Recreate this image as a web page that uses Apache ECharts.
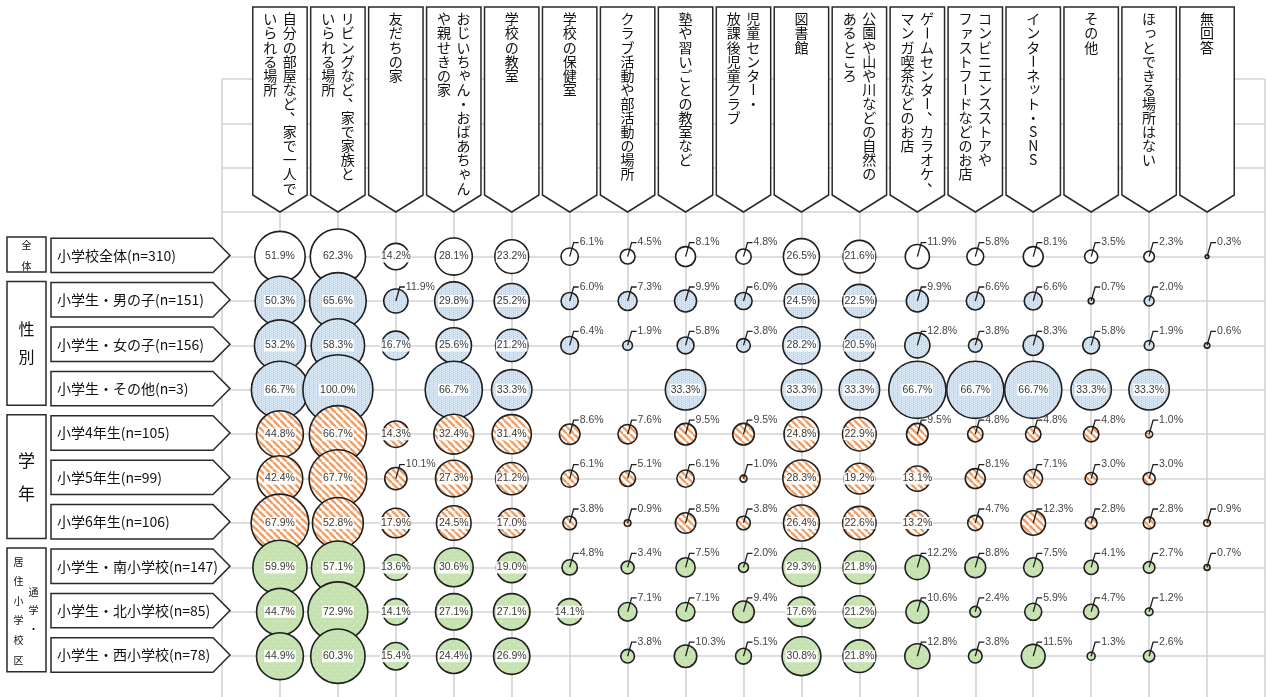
<!DOCTYPE html>
<html><head><meta charset="utf-8">
<script src="https://cdn.jsdelivr.net/npm/echarts@6/dist/echarts.min.js"></script>
<style>html,body{margin:0;padding:0;background:#fff}#c{width:1266px;height:697px}</style>
</head><body><div id="c"></div>
<script>
// ---------------- data ----------------
const COL_LABELS = [
  '自分の部屋など、家で一人で\nいられる場所',
  'リビングなど、家で家族と\nいられる場所',
  '友だちの家',
  'おじいちゃん・おばあちゃん\nや親せきの家',
  '学校の教室',
  '学校の保健室',
  'クラブ活動や部活動の場所',
  '塾や習いごとの教室など',
  '児童センター・\n放課後児童クラブ',
  '図書館',
  '公園や山や川などの自然の\nあるところ',
  'ゲームセンター、カラオケ、\nマンガ喫茶などのお店',
  'コンビニエンスストアや\nファストフードなどのお店',
  'インターネット・SNS',
  'その他',
  'ほっとできる場所はない',
  '無回答'
];
const ROW_LABELS = [
  '小学校全体(n=310)',
  '小学生・男の子(n=151)',
  '小学生・女の子(n=156)',
  '小学生・その他(n=3)',
  '小学4年生(n=105)',
  '小学5年生(n=99)',
  '小学6年生(n=106)',
  '小学生・南小学校(n=147)',
  '小学生・北小学校(n=85)',
  '小学生・西小学校(n=78)'
];
const V_ALL   = [51.9, 62.3, 14.2, 28.1, 23.2, 6.1, 4.5, 8.1, 4.8, 26.5, 21.6, 11.9, 5.8, 8.1, 3.5, 2.3, 0.3];
const V_BOY   = [50.3, 65.6, 11.9, 29.8, 25.2, 6.0, 7.3, 9.9, 6.0, 24.5, 22.5, 9.9, 6.6, 6.6, 0.7, 2.0, null];
const V_GIRL  = [53.2, 58.3, 16.7, 25.6, 21.2, 6.4, 1.9, 5.8, 3.8, 28.2, 20.5, 12.8, 3.8, 8.3, 5.8, 1.9, 0.6];
const V_OTHER = [66.7, 100.0, null, 66.7, 33.3, null, null, 33.3, null, 33.3, 33.3, 66.7, 66.7, 66.7, 33.3, 33.3, null];
const V_G4    = [44.8, 66.7, 14.3, 32.4, 31.4, 8.6, 7.6, 9.5, 9.5, 24.8, 22.9, 9.5, 4.8, 4.8, 4.8, 1.0, null];
const V_G5    = [42.4, 67.7, 10.1, 27.3, 21.2, 6.1, 5.1, 6.1, 1.0, 28.3, 19.2, 13.1, 8.1, 7.1, 3.0, 3.0, null];
const V_G6    = [67.9, 52.8, 17.9, 24.5, 17.0, 3.8, 0.9, 8.5, 3.8, 26.4, 22.6, 13.2, 4.7, 12.3, 2.8, 2.8, 0.9];
const V_SOUTH = [59.9, 57.1, 13.6, 30.6, 19.0, 4.8, 3.4, 7.5, 2.0, 29.3, 21.8, 12.2, 8.8, 7.5, 4.1, 2.7, 0.7];
const V_NORTH = [44.7, 72.9, 14.1, 27.1, 27.1, 14.1, 7.1, 7.1, 9.4, 17.6, 21.2, 10.6, 2.4, 5.9, 4.7, 1.2, null];
const V_WEST  = [44.9, 60.3, 15.4, 24.4, 26.9, null, 3.8, 10.3, 5.1, 30.8, 21.8, 12.8, 3.8, 11.5, 1.3, 2.6, null];
const ROW_VALUES = [V_ALL, V_BOY, V_GIRL, V_OTHER, V_G4, V_G5, V_G6, V_SOUTH, V_NORTH, V_WEST];
const GROUP_LABELS = ['全体', '性別', '学年', '居住小学校区'];
const GROUP_SUB_LABEL = '通学・';
const GROUP_ROWS = [[0, 0], [1, 3], [4, 6], [7, 9]];

// ---------------- patterns ----------------
function mk(w, h, draw) { const c = document.createElement('canvas'); c.width = w; c.height = h; draw(c.getContext('2d'), w, h); return c; }
const patWhite = '#ffffff';
const patBlue = { image: mk(4, 4, (g) => {
  g.fillStyle = '#d6e6f5'; g.fillRect(0, 0, 4, 4);
  g.fillStyle = '#a3c4e6'; g.fillRect(1, 0, 1, 1); g.fillRect(1, 2, 1, 1);
  g.fillStyle = '#bfd7ef'; g.fillRect(3, 1, 1, 1); g.fillRect(3, 3, 1, 1);
}), repeat: 'repeat' };
const patOrange = { image: mk(7, 7, (g, s) => {
  g.fillStyle = '#ffffff'; g.fillRect(0, 0, s, s);
  g.strokeStyle = '#f29e63'; g.lineWidth = 2.4;
  [-s, 0, s].forEach(o => { g.beginPath(); g.moveTo(o, 0); g.lineTo(o + s, s); g.stroke(); });
}), repeat: 'repeat' };
const patGreen = { image: mk(8, 8, (g) => {
  g.fillStyle = '#c6e2b0'; g.fillRect(0, 0, 8, 8);
  g.fillStyle = '#eef7e6'; g.fillRect(1, 1, 1, 1); g.fillRect(5, 5, 1, 1);
}), repeat: 'repeat' };
const ROW_FILLS = [patWhite, patBlue, patBlue, patBlue, patOrange, patOrange, patOrange, patGreen, patGreen, patGreen];

// ---------------- series data ----------------
const bubbleData = [];
ROW_VALUES.forEach((arr, r) => arr.forEach((v, c) => { if (v !== null) bubbleData.push([c, r, v]); }));

const K = 3.5;
const NUM_FONT = 'Liberation Sans';
const JP_FONT = 'Noto Sans CJK JP';

function renderBubble(params, api) {
  const c = api.value(0), r = api.value(1), v = api.value(2);
  const p = api.coord([c, r]);
  const rad = K * Math.sqrt(v);
  const kids = [{ type: 'circle', shape: { cx: p[0], cy: p[1], r: rad },
    style: { fill: ROW_FILLS[r], stroke: '#1f1f1f', lineWidth: 1.6 } }];
  const t = v.toFixed(1) + '%';
  if (v >= 13) {
    kids.push({ type: 'text', x: p[0], y: p[1], style: { text: t, align: 'center', verticalAlign: 'middle',
      fill: '#3a3a3a', fontSize: 10.5, fontFamily: NUM_FONT, backgroundColor: 'rgba(255,255,255,0.92)', padding: [1, 1, 0, 1] } });
  } else {
    kids.push({ type: 'polyline', shape: { points: [[p[0], p[1]], [p[0] + 4, p[1] - 14], [p[0] + 9, p[1] - 14]] },
      style: { stroke: '#1f1f1f', lineWidth: 1.3, fill: null } });
    kids.push({ type: 'text', x: p[0] + 10, y: p[1] - 14, style: { text: t, align: 'left', verticalAlign: 'middle',
      fill: '#444', fontSize: 10.5, fontFamily: NUM_FONT } });
  }
  return { type: 'group', children: kids };
}

const SMALL = 'ぁぃぅぇぉっゃゅょァィゥェォッャュョ';
function renderHeader(params, api) {
  const i = api.value(0);
  const cx = api.coord([i, 0])[0];
  const hw = 27.2, top = 7, sideBottom = 195, tip = 212;
  const kids = [{ type: 'polygon', shape: { points: [[cx - hw, top], [cx + hw, top], [cx + hw, sideBottom], [cx, tip], [cx - hw, sideBottom]] },
    style: { fill: '#fff', stroke: '#2a2a2a', lineWidth: 1.5 } }];
  const lines = COL_LABELS[i].split('\n');
  const n = lines.length, gap = 19.5;
  lines.forEach((ln, li) => {
    const x = cx + (n - 1) * gap / 2 - li * gap;
    Array.from(ln).forEach((ch, k) => {
      let y = 19 + k * 14.1, dx = 0, dy = 0, rot = 0;
      if (ch === 'ー') rot = -Math.PI / 2;
      if (ch === '、') { dx = 7; dy = -8; }
      if (SMALL.includes(ch)) { dx = 1.5; dy = -1.5; }
      kids.push({ type: 'text', x: x + dx, y: y + dy, rotation: rot,
        style: { text: ch, align: 'center', verticalAlign: 'middle', fontSize: 14, fontFamily: JP_FONT, fill: '#111' } });
    });
  });
  return { type: 'group', children: kids };
}

function renderRowLabel(params, api) {
  const r = api.value(0);
  const cy = api.coord([0, r])[1] - 1.2;
  const L = 51, R = 213, T = 230, h = 17.2;
  return { type: 'group', children: [
    { type: 'polygon', shape: { points: [[L, cy - h], [R, cy - h], [T, cy], [R, cy + h], [L, cy + h]] },
      style: { fill: '#fff', stroke: '#2a2a2a', lineWidth: 1.5 } },
    { type: 'text', x: 57, y: cy, style: { text: ROW_LABELS[r], align: 'left', verticalAlign: 'middle',
      fontSize: 14, fontFamily: JP_FONT, fill: '#111' } }
  ] };
}

function renderGroup(params, api) {
  const f = api.value(0), l = api.value(1), g = api.value(2);
  const top = api.coord([0, f])[1] - 19.5, bot = api.coord([0, l])[1] + 15.5;
  const mid = (top + bot) / 2, cx = 26.5;
  const kids = [{ type: 'rect', shape: { x: 7, y: top, width: 39, height: bot - top },
    style: { fill: '#fff', stroke: '#2a2a2a', lineWidth: 1.5 } }];
  const txt = (ch, x, y, fs) => kids.push({ type: 'text', x, y, style: { text: ch, align: 'center', verticalAlign: 'middle',
    fontSize: fs, fontFamily: JP_FONT, fill: '#111' } });
  const chars = Array.from(GROUP_LABELS[g]);
  if (g === 0) { txt(chars[0], cx, top + 8, 10); txt(chars[1], cx, bot - 6, 10); }
  else if (g === 1) { txt(chars[0], cx, mid - 14, 16); txt(chars[1], cx, mid + 14, 16); }
  else if (g === 2) { txt(chars[0], cx, mid - 16.5, 17); txt(chars[1], cx, mid + 16.5, 17); }
  else {
    chars.forEach((ch, k) => txt(ch, 18.5, top + 14 + k * 19.6, 10));
    Array.from(GROUP_SUB_LABEL).forEach((ch, k) => txt(ch, 33.5, top + 44 + k * 18.5, 10));
  }
  return { type: 'group', children: kids };
}

const chart = echarts.init(document.getElementById('c'), null, { renderer: 'canvas' });
const gridLine = { show: true, lineStyle: { color: '#d3d3d3', width: 1.6 } };
chart.setOption({
  backgroundColor: '#ffffff',
  animation: false,
  grid: { left: 222, top: 79, width: 1043, height: 18 * 44.4, outerBoundsMode: 'none', containLabel: false },
  xAxis: { type: 'value', min: -1, max: 17, interval: 1, axisLine: { show: false }, axisTick: { show: false },
    axisLabel: { show: false }, splitLine: gridLine },
  yAxis: { type: 'value', min: -4, max: 14, interval: 1, inverse: true, axisLine: { show: false }, axisTick: { show: false },
    axisLabel: { show: false }, splitLine: gridLine },
  series: [
    { type: 'custom', name: 'header', clip: false, silent: true, renderItem: renderHeader,
      data: COL_LABELS.map((_, i) => [i]), encode: { x: 0 } },
    { type: 'custom', name: 'rows', clip: false, silent: true, renderItem: renderRowLabel,
      data: ROW_LABELS.map((_, i) => [i]), encode: { y: 0 } },
    { type: 'custom', name: 'groups', clip: false, silent: true, renderItem: renderGroup,
      data: GROUP_ROWS.map((gr, i) => [gr[0], gr[1], i]), encode: { y: [0, 1] } },
    { type: 'custom', name: 'bubbles', clip: false, silent: true, renderItem: renderBubble,
      data: bubbleData, encode: { x: 0, y: 1 } }
  ]
});
</script>
</body></html>
